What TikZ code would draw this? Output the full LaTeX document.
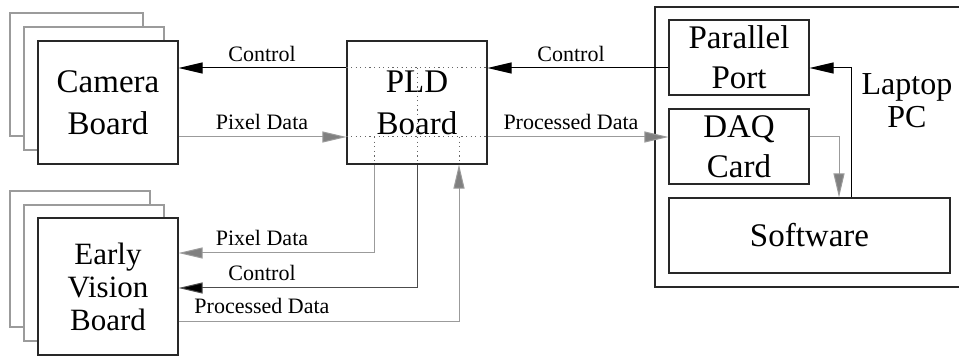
\documentclass[tikz,border=0pt]{standalone}
\usepackage{fontspec}
\setmainfont{Liberation Serif}
\usetikzlibrary{arrows.meta}
\definecolor{wire}{RGB}{155,155,155}
\definecolor{tipgray}{RGB}{128,128,128}
\definecolor{stack}{RGB}{155,155,155}
\definecolor{edge}{RGB}{40,40,40}

\begin{document}
\begin{tikzpicture}[x=1pt,y=-1pt,
  box/.style={draw=edge, line width=1.1pt, fill=white, inner sep=0pt, align=center,
    font=\fontsize{33}{42}\selectfont},
  ghost/.style={draw=stack, line width=1.1pt, fill=white},
  lab/.style={font=\fontsize{22}{24}\selectfont, inner sep=0pt, anchor=base},
  blk/.style={draw=black, line width=1pt, -{Triangle[length=24pt,width=11pt,fill=black]}},
  gry/.style={draw=wire, line width=1pt, -{Triangle[length=24pt,width=11pt,fill=tipgray]}},
  dotline/.style={draw=black!60, line width=1pt, dash pattern=on 1.2pt off 3.4pt}]

\useasboundingbox (0,0) rectangle (959,358);

% stacked copies behind the camera and early vision boards
\draw[ghost] (10,13) rectangle (143,136);
\draw[ghost] (24,27) rectangle (164,150);
\draw[ghost] (10,191) rectangle (150,327);
\draw[ghost] (24,205) rectangle (164,341);

% laptop enclosure
\node[draw=edge, line width=1.1pt, minimum width=320pt, minimum height=280pt, inner sep=0pt]
  (laptop) at (815,147) {};
\node[font=\fontsize{32}{33}\selectfont, align=center, inner sep=0pt] (laptoplab) at (907,101) {Laptop\\PC};

% boards
\node[box, minimum width=140pt, minimum height=123pt] (cam) at (108,102.5) {Camera\\Board};
\node[box, minimum width=140pt, minimum height=137pt, font=\fontsize{31}{33}\selectfont]
  (ev) at (108,286.5) {Early\\Vision\\Board};
\node[box, minimum width=140pt, minimum height=123pt] (pld) at (417,102.5) {PLD\\Board};
\node[box, minimum width=140pt, minimum height=75pt, font=\fontsize{33}{40}\selectfont]
  (pp) at (739,57.5) {Parallel\\Port};
\node[box, minimum width=140pt, minimum height=75pt, font=\fontsize{33}{40}\selectfont]
  (daq) at (739,146.5) {DAQ\\Card};
\node[box, minimum width=281pt, minimum height=75pt] (sw) at (809.5,235.5) {Software};

% signal levels and routing columns
\coordinate (yc) at (0,68);
\coordinate (yd) at (0,137);
\coordinate (ypx) at (0,253);
\coordinate (yct) at (0,288);
\coordinate (ypd) at (0,321);
\coordinate (xa) at (374,0);
\coordinate (xb) at (417,0);
\coordinate (xc) at (459,0);
\coordinate (xq) at (839,0);
\coordinate (xr) at (851,0);

% upper row
\draw[blk] (pld.west |- yc) -- (cam.east |- yc);
\draw[blk] (pp.west |- yc) -- (pld.east |- yc);
\draw[gry] (cam.east |- yd) -- (pld.west |- yd);
\draw[gry] (pld.east |- yd) -- (daq.west |- yd);

% routing inside the PLD board
\draw[dotline] (pld.west |- yc) -- (pld.east |- yc);
\draw[dotline] (pld.west |- yd) -- (pld.east |- yd);
\draw[dotline] (xa |- yd) -- (xa |- pld.south);
\draw[dotline] (xb |- yc) -- (xb |- pld.south);
\draw[dotline] (xc |- yd) -- (xc |- pld.south);

% links to the early vision board
\draw[gry] (xa |- pld.south) |- (ev.east |- ypx);
\draw[blk, draw=black!70] (xb |- pld.south) |- (ev.east |- yct);
\draw[gry] (ev.east |- ypd) -| (xc |- pld.south);

% inside the laptop
\draw[gry] (daq.east |- yd) -| (xq |- sw.north);
\draw[blk] (xr |- sw.north) |- (pp.east |- yc);

% labels
\node[lab] (l1) at (262,62) {Control};
\node[lab] (l2) at (262,130) {Pixel Data};
\node[lab] (l3) at (571,62) {Control};
\node[lab] (l4) at (571,130) {Processed Data};
\node[lab] (l5) at (262,246) {Pixel Data};
\node[lab] (l6) at (262,280) {Control};
\node[lab] (l7) at (262,313) {Processed Data};
\end{tikzpicture}
\end{document}
